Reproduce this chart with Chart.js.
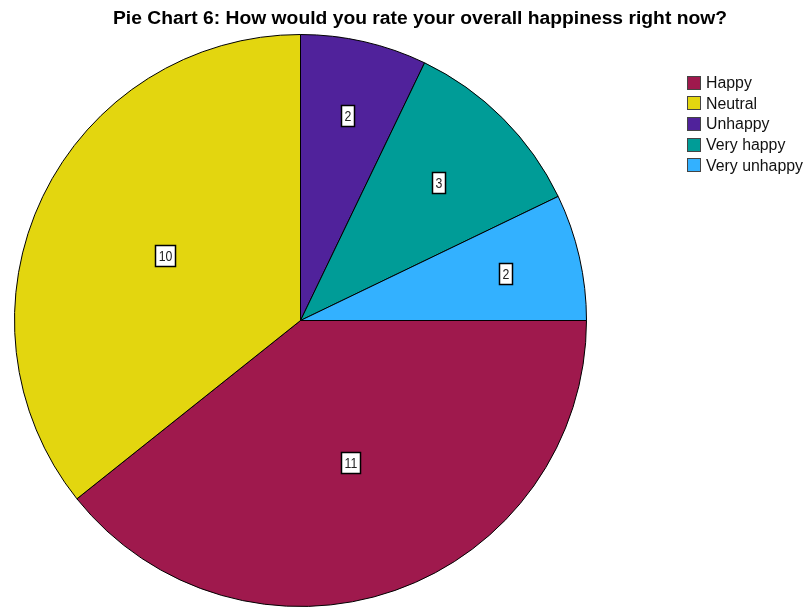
<!DOCTYPE html>
<html>
<head>
<meta charset="utf-8">
<script src="https://cdn.jsdelivr.net/npm/chart.js@4/dist/chart.umd.min.js"></script>
<style>
  html, body { margin: 0; padding: 0; background: #ffffff; overflow: hidden; }
  #wrap { position: relative; width: 806px; height: 607px; }
</style>
</head>
<body>
<div id="wrap"><canvas id="pie"></canvas></div>
<script>
// Survey responses: overall happiness right now
const chartTitle = 'Pie Chart 6: How would you rate your overall happiness right now?';
const categories = ['Happy', 'Neutral', 'Unhappy', 'Very happy', 'Very unhappy'];
const counts = [11, 10, 2, 3, 2];
const sliceColors = ['#9f194d', '#e3d60f', '#50229b', '#009c97', '#33b1ff'];

const FONT = '"Liberation Sans", Arial, sans-serif';

// Draw text scaled horizontally by a factor, anchored at (x, y)
function wideText(ctx, txt, x, y, stretch, align) {
  const w = ctx.measureText(txt).width * stretch;
  let left = x;
  if (align === 'center') left = x - w / 2;
  ctx.save();
  ctx.textAlign = 'left';
  ctx.translate(left, y);
  ctx.scale(stretch, 1);
  ctx.fillText(txt, 0, 0);
  ctx.restore();
  return w;
}

// Count labels: white boxes with a thin black frame inside each slice
const countLabels = {
  id: 'countLabels',
  afterDatasetsDraw(chart) {
    const ctx = chart.ctx;
    const meta = chart.getDatasetMeta(0);
    const stretch = 0.82;
    ctx.save();
    ctx.font = '15px ' + FONT;
    ctx.textBaseline = 'middle';
    meta.data.forEach((arc, i) => {
      const p = arc.getProps(['x', 'y', 'startAngle', 'endAngle', 'outerRadius'], true);
      const span = p.endAngle - p.startAngle;
      const mid = (p.startAngle + p.endAngle) / 2;
      const f = span > Math.PI / 2 ? 0.525 : (span > Math.PI / 5 ? 0.68 : 0.735);
      const lx = p.x + Math.cos(mid) * p.outerRadius * f;
      const ly = p.y + Math.sin(mid) * p.outerRadius * f;
      const txt = String(counts[i]);
      const w = Math.round(ctx.measureText(txt).width * stretch) + 6;
      const h = 21;
      const bx = Math.round(lx - w / 2) + 0.5;
      const by = Math.round(ly - h / 2) + 0.5;
      ctx.fillStyle = '#ffffff';
      ctx.fillRect(bx, by, w, h);
      ctx.strokeStyle = '#000000';
      ctx.lineWidth = 1.5;
      ctx.strokeRect(bx, by, w, h);
      ctx.fillStyle = '#222222';
      wideText(ctx, txt, bx + w / 2, by + h / 2 + 1, stretch, 'center');
    });
    ctx.restore();
  }
};

// Title and legend drawn on the canvas
const decorations = {
  id: 'decorations',
  afterDraw(chart) {
    const ctx = chart.ctx;
    ctx.save();
    ctx.fillStyle = '#000000';
    ctx.textBaseline = 'middle';

    ctx.font = 'bold 18px ' + FONT;
    const titleStretch = 614 / ctx.measureText(chartTitle).width;
    wideText(ctx, chartTitle, 420, 19, titleStretch, 'center');

    ctx.font = '16px ' + FONT;
    const longest = categories.reduce((a, b) => (ctx.measureText(b).width > ctx.measureText(a).width ? b : a));
    const legendStretch = 97 / ctx.measureText(longest).width;
    categories.forEach((name, i) => {
      const y = 82.5 + i * 20.7;
      const top = Math.round(y - 7);
      ctx.fillStyle = sliceColors[i];
      ctx.fillRect(687, top, 14, 14);
      ctx.strokeStyle = '#444444';
      ctx.lineWidth = 1;
      ctx.strokeRect(687.5, top + 0.5, 13, 13);
      ctx.fillStyle = '#111111';
      wideText(ctx, name, 706, y + 1, legendStretch, 'left');
    });
    ctx.restore();
  }
};

new Chart(document.getElementById('pie'), {
  type: 'pie',
  data: {
    labels: categories,
    datasets: [{
      data: counts,
      backgroundColor: sliceColors,
      borderColor: '#000000',
      borderWidth: 1
    }]
  },
  options: {
    responsive: true,
    maintainAspectRatio: false,
    animation: false,
    rotation: 90,
    layout: { padding: { left: 13, right: 218, top: 34, bottom: 0 } },
    plugins: {
      legend: { display: false },
      title: { display: false },
      tooltip: { enabled: false }
    }
  },
  plugins: [countLabels, decorations]
});
</script>
</body>
</html>
